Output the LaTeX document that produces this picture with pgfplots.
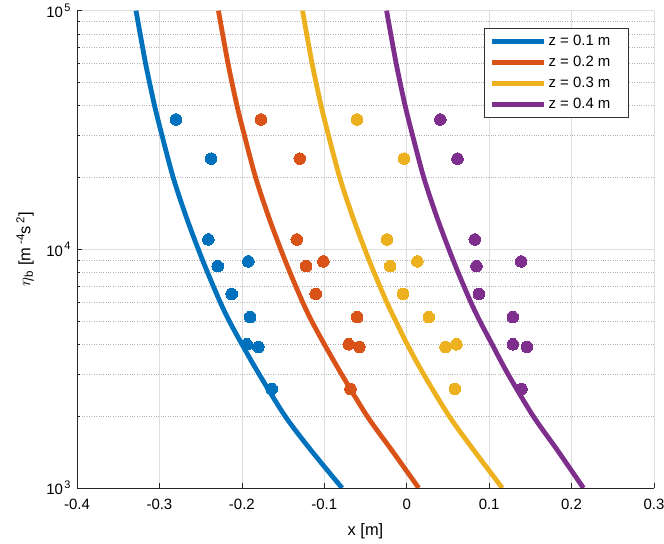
\documentclass[border=0pt]{standalone}
\usepackage{fontspec}
\setmainfont{Liberation Sans}
\usepackage{pgfplots}
\pgfplotsset{compat=1.18}
\definecolor{c1}{rgb}{0,0.447,0.741}
\definecolor{c2}{rgb}{0.850,0.325,0.098}
\definecolor{c3}{rgb}{0.929,0.694,0.125}
\definecolor{c4}{rgb}{0.494,0.184,0.556}
\newcommand{\tl}[1]{10\hspace{1.5bp}\raisebox{6.5bp}{\fontsize{11}{12}\selectfont #1}}
\newcommand{\sps}[1]{\raisebox{6bp}{\fontsize{11.5}{12}\selectfont #1}}
\begin{document}
\begin{tikzpicture}
\path[use as bounding box] (-77bp,-56bp) rectangle (587bp,488bp);
\begin{axis}[
  at={(0,0)}, anchor=south west,
  width=577bp, height=477.3bp, scale only axis,
  xmin=-0.4, xmax=0.3, ymode=log, ymin=1000, ymax=100000,
  axis x line=bottom, axis y line=left, axis line style={-, black!85, line width=0.6bp},
  xtick={-0.4,-0.3,-0.2,-0.1,0,0.1,0.2,0.3},
  xticklabels={-0.4,-0.3,-0.2,-0.1,0,0.1,0.2,0.3},
  ytick={1000,10000,100000},
  yticklabels={\tl{3},\tl{4},\tl{5}},
  tick align=inside, major tick length=5bp, minor tick length=3bp,
  tick style={black!85, line width=0.6bp},
  grid=both,
  major grid style={black!13, line width=0.6bp},
  minor grid style={black!30, dotted, line width=0.6bp},
  tick label style={font=\fontsize{15}{17}\selectfont},
  xticklabel style={yshift=-8bp},
  yticklabel style={xshift=-3bp},
  xlabel={x [m]},
  ylabel={$\eta$\textsubscript{b} [m\hspace{3bp}\sps{-4}s\hspace{3bp}\sps{2}]},
  xlabel style={at={(axis description cs:0.5,-0.0916)}, anchor=center, font=\fontsize{16.5}{18}\selectfont},
  ylabel style={at={(axis description cs:-0.0901,0.5)}, anchor=center, rotate=0, font=\fontsize{16.5}{18}\selectfont},
  legend style={at={(0.9562,0.9644)}, anchor=north east, draw=black!80, line width=0.6bp,
    font=\fontsize{15}{17}\selectfont, row sep=0pt, inner xsep=5bp, inner ysep=3bp,
    nodes={inner xsep=2bp, inner ysep=4.5bp}},
  legend cell align=left,
  legend image code/.code={\draw[#1] (0bp,0bp) -- (52bp,0bp);},
  every axis plot/.append style={line width=4.8bp},
]
\addplot[c1, smooth] coordinates {
(-0.3284,100000) (-0.3235,80350) (-0.3160,58210) (-0.3059,39990) (-0.2970,30130)
(-0.2833,20000) (-0.2676,13710) (-0.2528,10000) (-0.2416,8000) (-0.2262,6000)
(-0.2152,5000) (-0.1999,4000) (-0.1791,3000) (-0.1475,2000) (-0.1163,1442) (-0.0784,1000)};
\addlegendentry{z = 0.1 m\hspace*{11bp}}
\addplot[c2, smooth] coordinates {
(-0.2284,100000) (-0.2235,80350) (-0.2160,58210) (-0.2059,39990) (-0.1970,30130)
(-0.1833,20000) (-0.1676,13710) (-0.1528,10000) (-0.1416,8000) (-0.1262,6000)
(-0.1152,5000) (-0.0999,4000) (-0.0791,3000) (-0.0480,2000) (-0.0183,1442) (0.0146,1000)};
\addlegendentry{z = 0.2 m\hspace*{11bp}}
\addplot[c3, smooth] coordinates {
(-0.1264,100000) (-0.1215,80350) (-0.1140,58210) (-0.1039,39990) (-0.0950,30130)
(-0.0813,20000) (-0.0656,13710) (-0.0508,10000) (-0.0396,8000) (-0.0242,6000)
(-0.0132,5000) (0.0006,4000) (0.0204,3000) (0.0515,2000) (0.0812,1442) (0.1160,1000)};
\addlegendentry{z = 0.3 m\hspace*{11bp}}
\addplot[c4, smooth] coordinates {
(-0.0244,100000) (-0.0195,80350) (-0.0120,58210) (-0.0019,39990) (0.0070,30130)
(0.0207,20000) (0.0364,13710) (0.0512,10000) (0.0624,8000) (0.0778,6000)
(0.0888,5000) (0.1036,4000) (0.1229,3000) (0.1535,2000) (0.1827,1442) (0.2144,1000)};
\addlegendentry{z = 0.4 m\hspace*{11bp}}
\addplot[only marks, mark=*, mark size=5.8bp, c1, mark options={line width=0pt}, forget plot] coordinates {
(-0.280,35000) (-0.2374,24000) (-0.2406,11000) (-0.2293,8500) (-0.1921,8900)
(-0.2123,6500) (-0.190,5200) (-0.194,4000) (-0.180,3900) (-0.1637,2600)};
\addplot[only marks, mark=*, mark size=5.8bp, c2, mark options={line width=0pt}, forget plot] coordinates {
(-0.1767,35000) (-0.1298,24000) (-0.1334,11000) (-0.1221,8500) (-0.1011,8900)
(-0.1103,6500) (-0.0602,5200) (-0.0703,4000) (-0.0574,3900) (-0.0683,2600)};
\addplot[only marks, mark=*, mark size=5.8bp, c3, mark options={line width=0pt}, forget plot] coordinates {
(-0.0602,35000) (-0.0032,24000) (-0.0238,11000) (-0.0201,8500) (0.0130,8900)
(-0.0044,6500) (0.0268,5200) (0.0603,4000) (0.0470,3900) (0.0584,2600)};
\addplot[only marks, mark=*, mark size=5.8bp, c4, mark options={line width=0pt}, forget plot] coordinates {
(0.0409,35000) (0.0616,24000) (0.0826,11000) (0.0846,8500) (0.1388,8900)
(0.0875,6500) (0.1288,5200) (0.1288,4000) (0.1457,3900) (0.1392,2600)};
\end{axis}
\end{tikzpicture}
\end{document}
